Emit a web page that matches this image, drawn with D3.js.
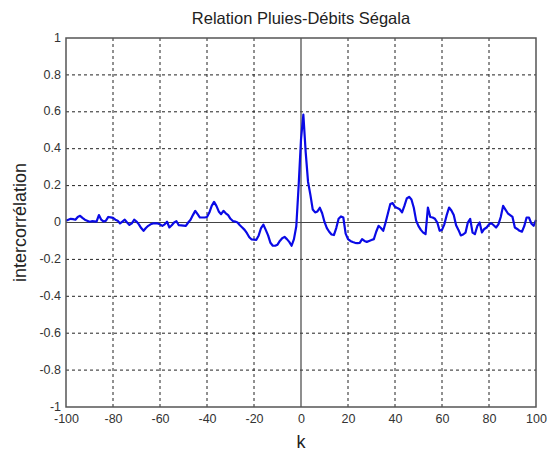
<!DOCTYPE html>
<html>
<head>
<meta charset="utf-8">
<script src="https://cdn.jsdelivr.net/npm/d3@7"></script>
<style>
    body { margin: 0; background: #fff; }
    text { font-family: 'Liberation Sans', Arial, sans-serif; }
</style>
</head>
<body>
<svg width="547" height="454"></svg>
<script>
// lags k
let lags = d3.range(-100, 101);
// intercorrelation values, one per lag
let corrValues = [
    0.01, 0.015, 0.02, 0.018, 0.015, 0.03, 0.036, 0.025, 0.015, 0.01,
    0.004, 0.007, 0.006, 0.005, 0.04, 0.015, 0.005, 0.01, 0.03, 0.028,
    0.025, 0.015, 0.01, -0.005, 0.005, 0.015, 0.0, -0.013, -0.005, 0.015,
    0.005, -0.01, -0.03, -0.045, -0.03, -0.018, -0.01, -0.005, -0.005, -0.005,
    -0.01, -0.018, -0.01, 0.004, -0.027, -0.015, 0.0, 0.007, -0.015, -0.016,
    -0.017, -0.018, 0.0, 0.015, 0.04, 0.063, 0.045, 0.027, 0.027, 0.027,
    0.03, 0.054, 0.09, 0.112, 0.09, 0.06, 0.045, 0.063, 0.05, 0.04,
    0.02, 0.008, 0.005, 0.0, -0.015, -0.027, -0.04, -0.058, -0.08, -0.092,
    -0.093, -0.094, -0.07, -0.03, -0.012, -0.04, -0.07, -0.11, -0.126, -0.126,
    -0.12, -0.1, -0.085, -0.078, -0.09, -0.105, -0.126, -0.09, -0.02, 0.2,
    0.45,
    0.585, 0.38, 0.22, 0.15, 0.07, 0.055, 0.06, 0.08, 0.05, 0.003,
    -0.03, -0.05, -0.065, -0.068, -0.03, 0.02, 0.033, 0.027, -0.06, -0.09,
    -0.1, -0.106, -0.11, -0.112, -0.11, -0.09, -0.1, -0.105, -0.1, -0.095,
    -0.09, -0.05, -0.018, -0.03, -0.045, 0.0, 0.05, 0.1, 0.105, 0.085,
    0.078, 0.072, 0.055, 0.09, 0.13, 0.139, 0.125, 0.08, 0.01, -0.02,
    -0.04, -0.055, -0.063, 0.081, 0.03, 0.027, 0.02, 0.0, -0.045, -0.04,
    -0.01, 0.04, 0.081, 0.065, 0.04, -0.015, -0.04, -0.07, -0.065, -0.055,
    0.0, 0.02, -0.055, -0.063, -0.02, 0.0, -0.054, -0.035, -0.027, -0.01,
    -0.004, -0.015, -0.027, -0.01, 0.03, 0.09, 0.07, 0.05, 0.04, 0.03,
    -0.027, -0.035, -0.045, -0.05, -0.02, 0.027, 0.027, -0.005, -0.018, 0.014
];
let xTicks = [-100, -80, -60, -40, -20, 0, 20, 40, 60, 80, 100];
let yTicks = [-1, -0.8, -0.6, -0.4, -0.2, 0, 0.2, 0.4, 0.6, 0.8, 1];

function main() {
    let svg = d3.select('svg'),
        margin = { top: 38, bottom: 47, left: 66, right: 11 },
        width = svg.attr('width') - margin.left - margin.right,
        height = svg.attr('height') - margin.top - margin.bottom;

    let xScale = d3.scaleLinear().domain([-100, 100]).range([margin.left, margin.left + width]),
        yScale = d3.scaleLinear().domain([-1, 1]).range([margin.top + height, margin.top]);

    let data = lags.map((k, i) => ({ k: k, v: corrValues[i] }));

    //Grid
    svg.append('g')
        .selectAll('line')
        .data(xTicks.slice(1, -1).filter((d) => d !== 0))
        .enter()
        .append('line')
        .attr('x1', (d) => xScale(d)).attr('x2', (d) => xScale(d))
        .attr('y1', margin.top).attr('y2', margin.top + height)
        .attr('stroke', '#222').attr('stroke-width', 1)
        .attr('stroke-dasharray', '3,3');
    svg.append('g')
        .selectAll('line')
        .data(yTicks.slice(1, -1).filter((d) => d !== 0))
        .enter()
        .append('line')
        .attr('y1', (d) => yScale(d)).attr('y2', (d) => yScale(d))
        .attr('x1', margin.left).attr('x2', margin.left + width)
        .attr('stroke', '#222').attr('stroke-width', 1)
        .attr('stroke-dasharray', '3,3');

    //Zero lines
    svg.append('line')
        .attr('x1', xScale(0)).attr('x2', xScale(0))
        .attr('y1', margin.top).attr('y2', margin.top + height)
        .attr('stroke', '#444').attr('stroke-width', 1.2);
    svg.append('line')
        .attr('x1', margin.left).attr('x2', margin.left + width)
        .attr('y1', yScale(0)).attr('y2', yScale(0))
        .attr('stroke', '#444').attr('stroke-width', 1.2);

    //Curve
    svg.append('path')
        .datum(data)
        .attr('fill', 'none')
        .attr('stroke', '#0a0ae6')
        .attr('stroke-width', 2.2)
        .attr('stroke-linejoin', 'round')
        .attr('d', d3.line().x((d) => xScale(d.k)).y((d) => yScale(d.v)));

    //Axes
    svg.append('g')
        .attr('transform', 'translate(0,' + (margin.top + height) + ')')
        .call(d3.axisBottom(xScale).tickValues(xTicks).tickSize(0).tickPadding(7).tickFormat((d) => String(d)))
        .call((g) => g.select('.domain').remove())
        .selectAll('text')
        .style('font-size', '12.5px')
        .attr('fill', '#333');
    svg.append('g')
        .attr('transform', 'translate(' + margin.left + ',0)')
        .call(d3.axisLeft(yScale).tickValues(yTicks).tickSize(0).tickPadding(5).tickFormat((d) => String(+d.toFixed(1))))
        .call((g) => g.select('.domain').remove())
        .selectAll('text')
        .attr('dy', '0.25em')
        .style('font-size', '12.5px')
        .attr('fill', '#333');

    //Box
    svg.append('rect')
        .attr('x', margin.left).attr('y', margin.top)
        .attr('width', width).attr('height', height)
        .attr('fill', 'none')
        .attr('stroke', '#555').attr('stroke-width', 1.5);

    //Title
    svg.append('text')
        .attr('text-anchor', 'middle')
        .attr('x', margin.left + width / 2)
        .attr('y', 24)
        .style('font-size', '16.5px')
        .attr('fill', '#222')
        .text('Relation Pluies-Débits Ségala');

    //Labels
    svg.append('text')
        .attr('text-anchor', 'middle')
        .attr('x', margin.left + width / 2)
        .attr('y', 448)
        .style('font-size', '18px')
        .attr('fill', '#222')
        .text('k');
    svg.append('text')
        .attr('text-anchor', 'middle')
        .attr('transform', 'translate(26,' + (margin.top + height / 2) + ') rotate(-90)')
        .style('font-size', '18px')
        .attr('fill', '#222')
        .text('intercorrélation');
}

main();
</script>
</body>
</html>
